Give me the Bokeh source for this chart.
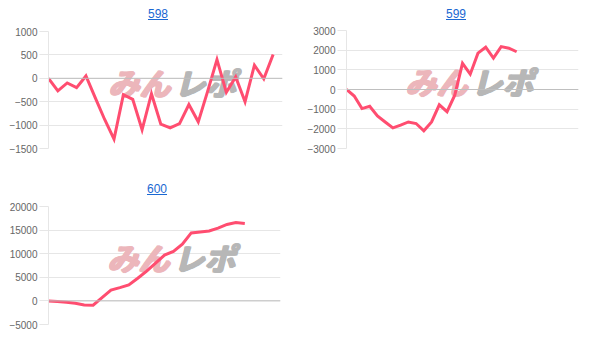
from bokeh.plotting import figure
from bokeh.layouts import column, row
from bokeh.models import Div, Range1d, SingleIntervalTicker, Span
from bokeh.core.properties import value
from bokeh.embed import file_html
from bokeh.resources import INLINE

# Machine numbers shown as chart titles
titles = ["598", "599", "600"]

# Cumulative difference per round for each machine
s598 = [0, -270, -100, -200, 50, -420, -880, -1300, -350, -450, -1100, -330,
        -980, -1060, -970, -560, -930, -280, 400, -300, 30, -500, 280, -10, 510]
s599 = [0, -330, -970, -850, -1340, -1650, -1950, -1810, -1650, -1730, -2100,
        -1650, -780, -1130, -290, 1330, 780, 1850, 2150, 1600, 2180, 2100, 1920]
s600 = [0, -150, -300, -500, -850, -900, 700, 2300, 2800, 3400, 4800, 6300,
        8000, 9700, 10500, 12000, 14400, 14600, 14800, 15400, 16200, 16600, 16400]

# Number of x-axis slots on each chart
slots = [26, 31, 27]

# y-axis ranges and tick steps
y_ranges = [(-1500, 1000), (-3000, 3000), (-5000, 20000)]
y_steps = [500, 1000, 5000]

LINE = "#ff4d70"
GRID = "#e6e6e6"
FONT = "Liberation Sans"


def title_div(text, pad_left):
    html = (
        f'<div style="width:304px;text-align:center;padding-left:{pad_left}px;'
        f'box-sizing:border-box;padding-top:7px;line-height:14px;'
        f'font-family:\'{FONT}\',Arial,sans-serif;font-size:12px;">'
        f'<span style="color:#1a68d2;text-decoration:underline;">{text}</span></div>'
    )
    return Div(text=html, width=304, height=22, margin=(0, 0, 0, 0))


def logo(p, cx, cy):
    # heavy italic logo, thickened by stacking a few shifted copies
    for dx in (0, 1, 2):
        for dy in (0, 1):
            p.text(x=[cx], y=[cy], text=["みん"], x_offset=4 + dx, y_offset=-9 + dy,
                   text_align="right", text_baseline="middle",
                   text_font=value("Noto Sans CJK JP"), text_font_size="31px",
                   text_font_style="bold italic", text_color="#ecb6bb")
            p.text(x=[cx], y=[cy], text=["レポ"], x_offset=8 + dx, y_offset=-9 + dy,
                   text_align="left", text_baseline="middle",
                   text_font=value("Noto Sans CJK JP"), text_font_size="31px",
                   text_font_style="bold italic", text_color="#b7b7b7")


def chart(series, n_slots, yr, step, borders, height=153):
    left, right, top, bottom = borders
    p = figure(width=304, height=height, output_backend="svg",
               toolbar_location=None,
               x_range=Range1d(0, n_slots - 1), y_range=Range1d(*yr),
               min_border_left=left, min_border_right=right,
               min_border_top=top, min_border_bottom=bottom)
    p.outline_line_color = None
    p.background_fill_color = "white"
    p.border_fill_color = "white"
    p.xaxis.visible = False
    p.xgrid.visible = False
    p.ygrid.grid_line_color = GRID
    p.ygrid.ticker = SingleIntervalTicker(interval=step)

    ax = p.yaxis[0]
    ax.ticker = SingleIntervalTicker(interval=step, num_minor_ticks=0)
    ax.axis_line_color = GRID
    ax.major_tick_line_color = GRID
    ax.major_tick_out = 9
    ax.major_tick_in = 0
    ax.minor_tick_line_color = None
    ax.major_label_standoff = 2
    ax.major_label_text_font = FONT
    ax.major_label_text_font_size = "10px"
    ax.major_label_text_color = "#666666"

    p.add_layout(Span(location=0, dimension="width",
                      line_color="#bfbfbf", line_width=1))

    logo(p, (n_slots - 1) / 2, (yr[0] + yr[1]) / 2)

    xs = list(range(len(series)))
    p.line(xs, series, line_color=LINE, line_width=3, line_join="miter")
    return p


c1 = chart(s598, slots[0], y_ranges[0], y_steps[0], (48, 22, 9, 27))
c2 = chart(s599, slots[1], y_ranges[1], y_steps[1], (40, 30, 8, 27))
c3 = chart(s600, slots[2], y_ranges[2], y_steps[2], (48, 24, 9, 26))

cell1 = column(title_div(titles[0], 12), c1, spacing=0)
cell2 = column(title_div(titles[1], 0), c2, spacing=0)
cell3 = column(title_div(titles[2], 10), c3, spacing=0)

root = column(row(cell1, cell2, spacing=0), row(cell3, spacing=0), spacing=0)

open("out.html", "w").write(file_html(root, INLINE))
